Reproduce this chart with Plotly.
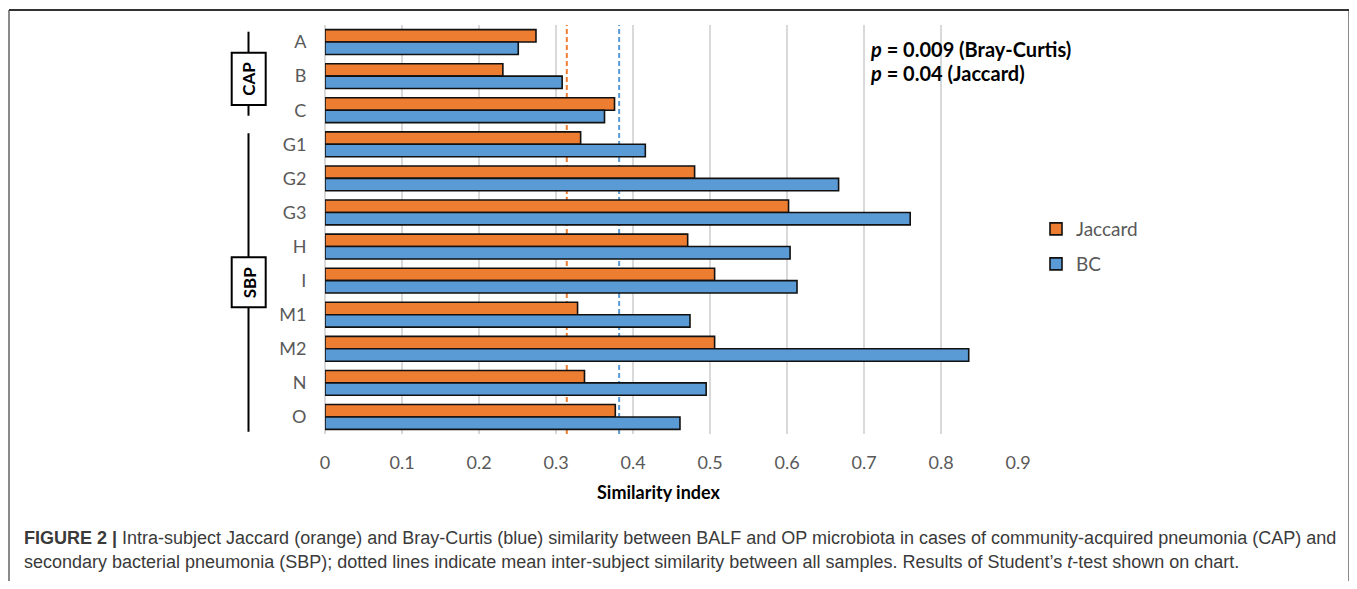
import plotly.graph_objects as go

# ---------------- data ----------------
subjects = ["A", "B", "C", "G1", "G2", "G3", "H", "I", "M1", "M2", "N", "O"]
jaccard = [0.274, 0.231, 0.376, 0.332, 0.480, 0.602, 0.471, 0.506, 0.328, 0.506, 0.337, 0.377]
bray_curtis = [0.251, 0.308, 0.363, 0.416, 0.667, 0.760, 0.604, 0.613, 0.474, 0.836, 0.495, 0.461]
mean_jaccard = 0.314
mean_bc = 0.382
x_ticks = [0, 0.1, 0.2, 0.3, 0.4, 0.5, 0.6, 0.7, 0.8, 0.9]
x_tick_labels = ["0", "0.1", "0.2", "0.3", "0.4", "0.5", "0.6", "0.7", "0.8", "0.9"]
groups = ["CAP", "SBP"]
p_text = ["<b><i>p</i> = 0.009 (Bray-Curtis)</b>", "<b><i>p</i> = 0.04 (Jaccard)</b>"]
caption1 = ("<b>FIGURE 2 |</b> Intra-subject Jaccard (orange) and Bray-Curtis (blue) similarity between "
            "BALF and OP microbiota in cases of community-acquired pneumonia (CAP) and")
caption2 = ("secondary bacterial pneumonia (SBP); dotted lines indicate mean inter-subject similarity "
            "between all samples. Results of Student’s <i>t</i>-test shown on chart.")

# ---------------- layout geometry (page px; page has an 8px body margin) ----------------
OFF = 8
W, H = 1357 - OFF, 589 - 2 * OFF
L, R, T, B = 325 - OFF, 1018 - OFF, 25 - OFF, 434 - OFF
FONT = "Lato, 'Open Sans', sans-serif"
CAPFONT = "'Liberation Sans', Arial, sans-serif"
ORANGE = "#ED7D31"
BLUE = "#5B9BD5"


def px(x):
    return (x - OFF - L) / (R - L)


def py(y):
    return (B - (y - OFF)) / (B - T)


fig = go.Figure()
fig.add_trace(go.Bar(y=subjects, x=jaccard, orientation="h", name="Jaccard",
                     marker=dict(color=ORANGE, line=dict(color="#111111", width=1.6)),
                     legend="legend"))
fig.add_trace(go.Bar(y=subjects, x=bray_curtis, orientation="h", name="BC",
                     marker=dict(color=BLUE, line=dict(color="#111111", width=1.6)),
                     legend="legend2"))

shapes = []
for val, col in [(mean_jaccard, ORANGE), (mean_bc, BLUE)]:
    shapes.append(dict(type="line", xref="x", yref="paper", x0=val, x1=val, y0=0, y1=1,
                       line=dict(color=col, width=2, dash="5px,3px"), layer="below"))

brackets = [
    (31.7, 115.7, 52.7, 105.0),
    (133.3, 431.7, 257.3, 307.3),
]
line_x = 248.5
box_x0, box_x1 = 231.7, 265.7
annotations = []
for (ly0, ly1, by0, by1), g in zip(brackets, groups):
    shapes.append(dict(type="line", xref="paper", yref="paper", x0=px(line_x), x1=px(line_x),
                       y0=py(ly0), y1=py(ly1), line=dict(color="black", width=2)))
    shapes.append(dict(type="rect", xref="paper", yref="paper", x0=px(box_x0), x1=px(box_x1),
                       y0=py(by0), y1=py(by1), line=dict(color="black", width=2),
                       fillcolor="white"))
    annotations.append(dict(xref="paper", yref="paper", x=px(line_x + 0.5), y=py((by0 + by1) / 2),
                            text="<b>%s</b>" % g, textangle=-90, showarrow=False,
                            font=dict(family=FONT, size=17, color="black"),
                            xanchor="center", yanchor="middle"))

# outer frame
shapes.append(dict(type="line", xref="paper", yref="paper", x0=px(9), x1=px(9), y0=py(10), y1=py(620),
                   line=dict(color="#8a8a8a", width=2)))
shapes.append(dict(type="line", xref="paper", yref="paper", x0=px(1349), x1=px(1349), y0=py(10), y1=py(620),
                   line=dict(color="#8a8a8a", width=2)))
shapes.append(dict(type="line", xref="paper", yref="paper", x0=px(9), x1=px(1349), y0=py(10), y1=py(10),
                   line=dict(color="#333333", width=2)))

for i, t in enumerate(p_text):
    annotations.append(dict(xref="paper", yref="paper", x=px(868), y=py(49 + 24 * i), text=t,
                            showarrow=False, xanchor="left", yanchor="middle",
                            font=dict(family=FONT, size=20, color="black")))

annotations.append(dict(xref="paper", yref="paper", x=px(658), y=py(492), text="<b>Similarity index</b>",
                        showarrow=False, xanchor="center", yanchor="middle",
                        font=dict(family=FONT, size=18, color="black")))

annotations.append(dict(xref="paper", yref="paper", x=px(22), y=py(538), text=caption1,
                        showarrow=False, xanchor="left", yanchor="middle",
                        font=dict(family=CAPFONT, size=18, color="#3a3a3a")))
annotations.append(dict(xref="paper", yref="paper", x=px(22), y=py(562), text=caption2,
                        showarrow=False, xanchor="left", yanchor="middle",
                        font=dict(family=CAPFONT, size=18, color="#3a3a3a")))

fig.update_layout(
    width=W, height=H,
    margin=dict(l=L, r=W - R, t=T, b=H - B, pad=0),
    paper_bgcolor="white", plot_bgcolor="white",
    barmode="group", bargap=0.27, bargroupgap=0,
    font=dict(family=FONT, color="#595959"),
    showlegend=True,
    legend=dict(x=px(1036), y=py(229), xanchor="left", yanchor="middle",
                font=dict(family=FONT, size=19, color="#595959"), bgcolor="rgba(0,0,0,0)"),
    legend2=dict(x=px(1036), y=py(264), xanchor="left", yanchor="middle",
                 font=dict(family=FONT, size=19, color="#595959"), bgcolor="rgba(0,0,0,0)"),
    shapes=shapes,
    annotations=annotations,
    xaxis=dict(range=[0, 0.9], tickvals=x_ticks, ticktext=x_tick_labels,
               showgrid=True, gridcolor="#D9D9D9", gridwidth=1.5,
               zeroline=True, zerolinecolor="#D9D9D9", zerolinewidth=1.5,
               showline=False, ticks="outside", ticklen=12, tickcolor="rgba(0,0,0,0)",
               tickfont=dict(family=FONT, size=18, color="#595959")),
    yaxis=dict(autorange=False, range=[11.5, -0.5], showgrid=False, zeroline=False, showline=False,
               ticks="outside", ticklen=14, tickcolor="rgba(0,0,0,0)",
               tickfont=dict(family=FONT, size=18, color="#595959")),
)

fig.write_html("out.html")
